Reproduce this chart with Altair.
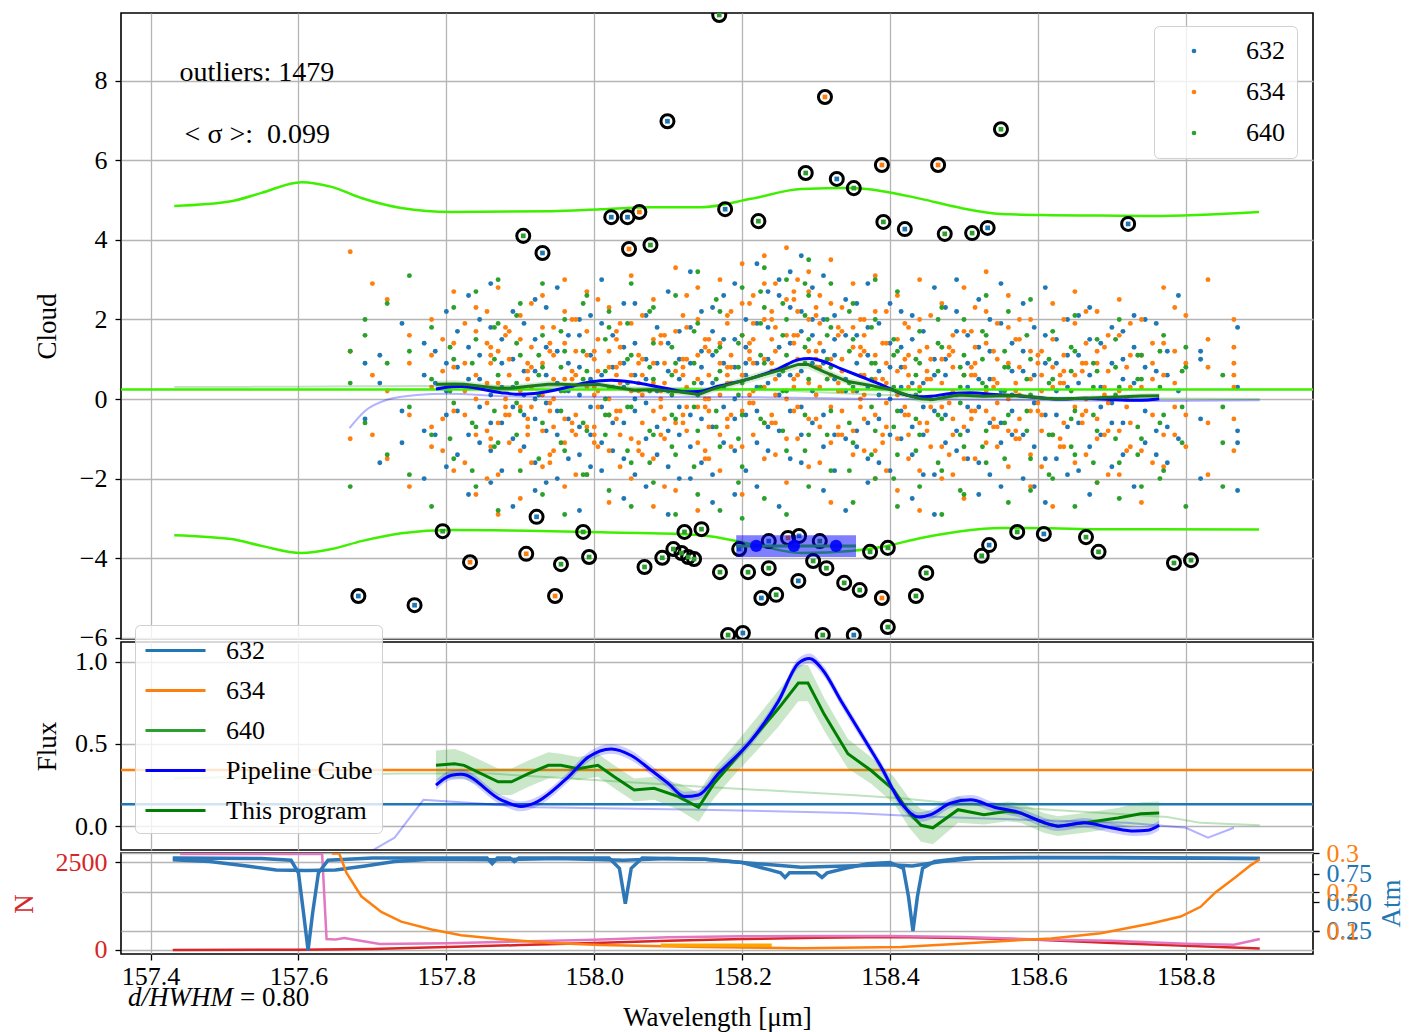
import altair as alt
import pandas as pd

FONT = "Liberation Serif"
X_DOMAIN = [157.36, 158.972]
X_TICKS = [157.4, 157.6, 157.8, 158.0, 158.2, 158.4, 158.6, 158.8]
SERIES = ["632", "634", "640"]
SERIES_COLORS = ["#1f77b4", "#ff7f0e", "#2ca02c"]
FLUX_KEYS = ["632", "634", "640", "Pipeline Cube", "This program"]
FLUX_COLORS = ["#1f77b4", "#ff7f0e", "#2ca02c", "#0000ff", "#008000"]
LIME = "#3ef000"

# ---------------- top panel: residual cloud (columns of samples) ----------------
cols_632 = [157.69, 157.71, 157.74, 157.77, 157.80, 157.83, 157.86, 157.89, 157.92, 157.95,
            157.98, 158.01, 158.04, 158.07, 158.10, 158.13, 158.16, 158.19, 158.22, 158.25,
            158.28, 158.31, 158.34, 158.37, 158.40, 158.43, 158.46, 158.49, 158.52, 158.55,
            158.58, 158.61, 158.64, 158.67, 158.70, 158.73, 158.76, 158.79, 158.82, 158.87]
vals_632 = [[0.9, -0.5], [1.1, -1.6, 0.4], [-0.3, 1.9, -1.1], [0.6, -2.0, 1.4, -0.8],
            [2.2, -0.4, 0.9, -1.7, 0.2], [-2.4, 1.3, -0.9, 0.5, 2.6], [0.1, -1.3, 1.8, -0.6, 2.9, -2.1],
            [1.0, -2.7, 0.3, -1.0, 2.2, -0.2], [-1.6, 0.7, 2.5, -0.5, 1.5, -2.3, 0.0],
            [2.8, -0.9, 0.4, -2.0, 1.2, -0.3], [0.8, -1.4, 2.0, -2.8, 0.1, 1.6, -0.7],
            [-0.2, 1.9, -1.8, 0.6, 3.0, -1.1], [1.3, -0.6, -2.5, 0.3, 2.4, -1.5, 0.9],
            [-1.0, 2.1, 0.5, -2.2, 1.0, -0.1], [0.2, -1.7, 2.7, 1.4, -0.8, -2.9, 0.7],
            [1.8, -0.4, -1.2, 0.9, 3.2, -2.0], [-0.7, 0.4, 2.3, -1.9, 1.1, -2.6, 1.7],
            [2.9, 0.0, -1.3, 1.5, -0.5, 0.8, -2.4], [-1.1, 1.9, 0.3, 3.4, -2.2, 0.9, -0.3],
            [0.6, 2.6, -0.8, 1.3, -2.7, 0.1, 3.0], [1.7, -0.2, 3.6, 0.7, -1.6, 2.2, -0.9],
            [-0.4, 2.0, 0.9, -2.3, 3.1, 1.2, -1.2], [2.5, -1.0, 0.2, 1.6, -2.8, 0.5],
            [0.3, 1.8, -1.5, 2.9, -0.6, -2.1, 1.1], [-0.9, 0.8, 2.4, -1.8, 0.0, 1.4],
            [1.5, -2.5, 0.4, -0.7, 2.1, -1.4], [-0.3, 1.0, 2.8, -1.9, 0.6, -2.9],
            [2.2, -0.8, 0.1, 1.7, -1.3, 3.0], [0.5, -1.6, 1.3, -2.4, 2.5, -0.2],
            [-1.1, 1.9, 0.2, -0.6, 2.9, -2.2], [1.2, -2.0, 0.7, 2.4, -0.9],
            [-0.4, 1.6, -1.5, 0.9, 2.8, -2.6], [2.0, -0.7, 0.3, -1.9, 1.1],
            [0.6, -1.2, 2.3, -2.4, 1.5], [-0.1, 1.8, -1.7, 0.9, -0.6], [1.3, -2.2, 0.4, 2.1],
            [-0.8, 0.7, -1.4, 1.9], [0.2, 2.6, -1.0], [1.0, -0.5, 1.2, -2.0], [1.8, -0.8, 0.3, -1.1, -2.3]]
cols_632b = [157.785, 157.815, 157.845, 157.875, 157.905, 157.935, 157.965, 157.995, 158.025, 158.055,
             158.085, 158.115, 158.145, 158.175, 158.205, 158.235, 158.265, 158.295, 158.325, 158.355,
             158.385, 158.415, 158.445, 158.475, 158.505, 158.535, 158.565, 158.595, 158.625, 158.655,
             158.685, 158.715, 158.745, 158.775]
vals_632b = [[0.4, -0.9, 1.2], [-0.3, 0.8, -1.4, 1.7], [1.1, -0.2, 0.5, -1.1, 2.0], [-0.6, 0.3, 1.5, -1.8, 0.9],
             [0.7, -1.2, 0.1, 1.9, -0.4], [-0.1, 1.3, -0.8, 0.6, -2.1, 2.3], [1.6, 0.2, -0.5, -1.5, 0.9],
             [-0.9, 0.5, 1.1, -0.2, 2.1, -1.7], [0.3, -1.3, 1.6, 0.8, -0.6], [1.4, -0.3, -1.9, 0.6, 2.4, 0.0],
             [-0.7, 0.9, 0.2, -1.4, 1.8], [0.5, 1.7, -0.9, -0.2, 1.0, -2.0], [1.2, -0.5, 0.4, 2.2, -1.6, 0.8],
             [-0.2, 1.5, 0.9, -1.1, 0.3, 2.6], [0.9, 2.0, -0.4, 1.3, -1.8, 0.6], [1.8, 0.4, 2.7, -0.7, 1.0, -1.3],
             [0.6, 2.3, 1.4, -0.3, 3.2, -1.5], [2.0, 0.9, -0.6, 1.6, 2.8, 0.2], [1.1, -0.9, 2.1, 0.5, -1.8, 1.5],
             [0.2, 1.6, -0.8, 2.4, 0.9, -1.2], [-0.5, 0.7, 1.9, -1.6, 0.1], [0.8, -0.3, 1.3, -1.0, 2.2, 0.3],
             [-0.9, 0.4, 1.7, -0.2, -1.9], [0.6, -1.1, 1.0, 2.3, -0.4], [-0.2, 0.9, -1.5, 1.6, 0.3, -0.8],
             [1.2, -0.6, 0.5, -1.9, 2.0], [0.1, 1.4, -0.9, 0.7, -0.3], [-1.2, 0.6, 1.8, -0.1, -2.2],
             [0.9, -0.4, 0.2, 1.5, -1.5], [-0.6, 1.1, -1.8, 0.4, 2.1], [0.3, -0.9, 1.4, -0.2],
             [1.0, -1.4, 0.5, -0.6, 1.7], [-0.3, 0.8, -1.1, 2.0], [0.6, -0.7, 1.2, -1.6]]

cols_634 = [157.67, 157.70, 157.72, 157.75, 157.78, 157.81, 157.84, 157.87, 157.90, 157.93,
            157.96, 157.99, 158.02, 158.05, 158.08, 158.11, 158.14, 158.17, 158.20, 158.23,
            158.26, 158.29, 158.32, 158.35, 158.38, 158.41, 158.44, 158.47, 158.50, 158.53,
            158.56, 158.59, 158.62, 158.65, 158.68, 158.71, 158.74, 158.77, 158.80, 158.83, 158.865]
vals_634 = [[3.7, 1.2, -1.0], [2.9, -0.9, 0.6], [2.5, 0.2, -1.5], [-0.4, 1.6, -2.2, 0.9],
            [2.0, -1.2, 0.3, 1.1, -0.7], [-1.8, 0.8, 2.7, -0.3, 1.4], [1.7, -2.4, 0.0, 2.3, -0.9, 0.6],
            [-0.6, 1.2, -1.9, 2.8, 0.4, -2.9], [2.1, 0.2, -1.3, 1.5, -0.2, -2.5],
            [0.9, -0.8, 2.6, -1.7, 1.8, 0.1], [-2.2, 1.4, 0.5, -0.5, 2.2, -1.1, 3.0],
            [1.1, -1.9, 0.3, 2.7, -0.7, 1.7], [-0.4, 2.3, -2.6, 0.8, 1.2, -1.3, 0.0],
            [3.1, 0.6, -1.0, 1.9, -2.0, 0.2], [-1.5, 0.9, 2.5, -0.3, 1.5, -2.7, 0.4],
            [0.7, -2.3, 1.7, 3.3, -0.6, 0.2], [2.0, -1.1, 0.5, -2.8, 1.1, 2.8, -0.2],
            [-0.9, 1.4, 3.0, 0.1, -1.8, 0.9], [1.6, -0.3, 2.4, -2.4, 0.6, 3.4, -1.2],
            [0.3, 2.9, -1.5, 1.0, -0.6, 2.0, 3.6], [2.5, -1.0, 0.8, 3.8, -2.1, 1.6, 0.0],
            [1.2, 3.2, -0.5, 2.0, -1.7, 0.4, 2.7], [-0.2, 2.4, 1.0, -2.6, 3.5, 0.6, -1.1],
            [1.8, -1.4, 0.2, 2.9, -0.8, 1.3], [0.5, 2.2, -2.0, 1.1, -0.4, 3.1, -1.3],
            [-1.0, 1.5, 0.1, 2.6, -2.3, 0.7], [2.0, -0.6, 1.2, -1.8, 0.3, 3.0, -2.8],
            [0.4, -1.2, 2.4, 1.0, -0.2, -2.0], [-0.7, 1.7, 0.6, -2.5, 2.8, -1.5],
            [1.4, -0.3, 2.2, -1.1, 0.2, 3.2], [0.0, 2.6, -1.7, 0.9, -0.8, 1.8],
            [-1.4, 0.5, 2.0, -2.2, 1.2, -0.3], [2.4, -0.9, 0.3, 1.5, -2.7, 0.8],
            [0.6, -1.6, 1.9, -0.2, 2.7], [-0.5, 1.2, -2.1, 0.9, 2.2, -1.0],
            [1.6, -0.8, 0.2, -1.9, 2.5], [0.3, 2.0, -1.3, 1.1, -2.6], [-0.9, 1.4, 0.6, -1.7, 2.8],
            [0.9, -0.4, 2.1, -1.2], [3.0, 1.5, -0.6, 0.8, -1.9], [2.0, 1.3, 0.9, 0.3, -0.5, -1.3, 0.6]]
cols_634b = [157.795, 157.825, 157.855, 157.885, 157.915, 157.945, 157.975, 158.005, 158.035, 158.065,
             158.095, 158.125, 158.155, 158.185, 158.215, 158.245, 158.275, 158.305, 158.335, 158.365,
             158.395, 158.425, 158.455, 158.485, 158.515, 158.545, 158.575, 158.605, 158.635, 158.665,
             158.695, 158.725, 158.755, 158.785]
vals_634b = [[-0.5, 0.7, 1.5, -1.3], [0.9, -0.4, 0.2, 1.9, -1.6], [-0.8, 1.4, 0.4, -0.1, 2.2, -2.0],
             [0.6, -1.1, 1.0, -0.4, 1.7], [-0.2, 0.8, -1.6, 1.3, 0.3, 2.4], [1.1, -0.7, 0.0, 1.8, -1.3, 0.5],
             [-0.4, 0.6, 2.0, -1.9, 1.2, -0.9], [0.7, -0.2, 1.5, -1.2, 0.2, 2.5],
             [1.3, -0.9, 0.4, -0.3, 1.9, -1.7, 0.9], [-0.6, 1.0, 0.1, 2.1, -1.4, 0.6],
             [0.4, -0.5, 1.6, -1.0, 0.9, -2.2], [1.0, 0.3, -0.8, 1.8, -0.2, 2.6],
             [-0.3, 1.2, 0.6, -1.5, 0.0, 1.5, -0.7], [0.8, 2.2, -0.4, 1.1, -1.2, 0.4],
             [1.5, 0.2, 2.6, -0.9, 0.9, -0.1, 1.9], [0.5, 1.8, -0.6, 2.9, 1.2, -1.4, 0.1],
             [2.2, 1.0, -0.2, 3.0, 0.6, -1.0, 1.6], [1.4, 2.6, 0.3, -0.7, 1.9, 0.8, -1.6],
             [0.2, 1.7, -0.9, 2.3, 1.0, -0.3, 0.7], [1.2, -0.5, 0.6, 2.0, -1.3, 0.1, 1.6],
             [-0.7, 0.9, 1.4, -0.1, -1.8, 0.4, 2.2], [0.3, -0.9, 1.1, 0.6, -0.4, 1.8, -1.5],
             [1.0, -0.2, 0.5, -1.2, 2.1, 0.0], [-0.5, 0.8, 1.6, -0.9, 0.2, -1.9, 1.2],
             [0.6, -0.3, 1.3, -1.5, 0.9, 2.3], [-0.1, 1.0, -0.7, 0.4, 1.9, -1.2],
             [0.8, -1.0, 0.1, 1.5, -0.5, 2.0], [-0.4, 0.6, 1.2, -1.7, 0.2, -0.8],
             [1.1, -0.6, 0.4, 2.0, -1.2, 0.7], [0.0, 0.9, -1.4, 1.4, -0.3, 2.2],
             [0.7, -0.8, 1.6, -0.1, -1.9], [-0.6, 0.3, 1.1, -1.2, 1.9], [0.5, -0.4, 1.4, -1.6, 0.9],
             [-0.2, 1.2, -0.9, 0.4, 2.3]]
cols_634c = [157.86, 157.88, 157.91, 157.94, 157.97, 158.00, 158.03, 158.06, 158.09, 158.12,
             158.15, 158.18, 158.21, 158.24, 158.27, 158.30, 158.33, 158.36, 158.39, 158.42,
             158.45, 158.48, 158.51, 158.54, 158.57, 158.60, 158.63, 158.66, 158.69, 158.72]
vals_634c = [[0.9, 1.1, 1.3, -1.2, -1.0], [-0.4, -0.2, 0.0, 1.6, 1.8], [0.5, 0.7, 0.9, -0.9, -0.7, -0.5],
             [1.2, 1.4, -0.3, -0.1, -1.6, -1.4], [-0.8, -0.6, 0.3, 0.5, 0.7, 2.0],
             [0.1, 0.3, 1.0, 1.2, -1.1, -0.9, -0.7], [-0.5, -0.3, 0.6, 0.8, 1.5, 1.7],
             [0.9, 1.1, -1.3, -1.1, 0.2, 0.4], [-0.2, 0.0, 0.2, 1.4, 1.6, -0.9],
             [0.6, 0.8, 1.0, -0.6, -0.4, 2.1], [1.3, 1.5, -0.2, 0.0, -1.5, -1.3],
             [0.4, 0.6, 0.8, 1.9, 2.1, -0.7, -0.5], [1.0, 1.2, 1.4, -0.1, 0.1, 2.4],
             [0.7, 0.9, 2.0, 2.2, -0.6, -0.4, 1.5], [1.4, 1.6, 0.3, 0.5, 2.5, 2.7, -0.3],
             [0.8, 1.0, 1.2, 2.1, 2.3, -0.5, 0.1], [0.2, 0.4, 1.6, 1.8, -0.9, -0.7],
             [1.1, 1.3, -0.2, 0.0, 0.6, 2.0], [0.3, 0.5, -1.1, -0.9, 1.4], [-0.4, -0.2, 0.8, 1.0, 1.9],
             [0.5, 0.7, -0.8, -0.6, 1.3], [-0.1, 0.1, 1.1, 1.3, -1.4], [0.6, 0.8, -0.5, -0.3, 1.7],
             [-0.7, -0.5, 0.3, 0.5, 1.2], [0.2, 0.4, 1.5, -1.0, -0.8], [-0.3, -0.1, 0.9, 1.1],
             [0.4, 0.6, -1.2, -1.0], [-0.6, -0.4, 0.7, 0.9], [0.1, 0.3, 1.3, -0.9], [-0.2, 0.0, 0.8, -1.3]]

cols_640 = [157.67, 157.69, 157.72, 157.75, 157.78, 157.81, 157.84, 157.87, 157.90, 157.93,
            157.96, 157.99, 158.02, 158.05, 158.08, 158.11, 158.14, 158.17, 158.20, 158.23,
            158.26, 158.29, 158.32, 158.35, 158.38, 158.41, 158.44, 158.47, 158.50, 158.53,
            158.56, 158.59, 158.62, 158.65, 158.68, 158.71, 158.74, 158.77, 158.80, 158.85]
vals_640 = [[1.2, -2.2, 0.4], [2.0, -0.6, 1.6], [0.9, -1.4, 2.4], [3.1, -0.2, 1.2, -1.9],
            [0.5, -2.7, 1.8, -0.9], [2.3, -0.1, -1.5, 1.0], [-0.7, 1.5, -2.2, 0.3, 2.7],
            [1.9, -1.1, 0.6, -2.8, 3.0], [-0.3, 2.4, -1.8, 1.1], [0.8, -2.4, 1.6, -0.6, 2.9],
            [-1.3, 0.2, 2.0, -2.9, 1.2], [2.6, -0.8, 0.7, -1.9], [0.3, 1.8, -2.3, -0.4, 2.2],
            [-1.6, 1.1, 2.9, -0.2, -2.7], [1.4, -0.9, 0.5, 2.3, -2.1], [-0.5, 2.6, -1.4, 0.9, -2.9],
            [1.9, 0.1, -2.4, 3.2, -0.8], [-1.2, 0.7, 2.2, -2.8, 1.3], [0.4, 2.8, -1.7, 1.6, -0.4, -3.0],
            [2.3, -0.6, 0.9, -2.5, 3.3], [1.1, 3.0, -1.3, 0.2, 2.0, -2.9], [2.6, 0.5, -0.9, 3.5, 1.5, -2.2],
            [-0.3, 1.8, 2.9, -1.8, 0.8], [1.5, -2.6, 0.3, 2.4, -1.1], [-0.8, 2.0, 0.9, -2.0, 3.0],
            [1.2, -1.4, 2.7, -0.3, -2.7], [0.2, 1.7, -2.2, 0.9, -0.9], [2.3, -0.5, -1.8, 1.3, -2.9],
            [-1.2, 0.6, 2.0, -2.4, 1.1], [1.6, -0.8, 0.3, -1.6, 2.6], [-0.4, 2.2, -2.6, 0.8],
            [1.0, -1.5, 0.1, 2.5, -2.3], [-0.9, 1.7, -2.0, 0.5], [2.1, -0.3, -1.4, 1.2, -2.7],
            [0.7, -2.1, 1.5, -0.8], [-1.6, 0.3, 2.0, -2.5], [1.1, -1.0, 0.5, -2.2],
            [-0.4, 1.6, -1.8], [0.8, -2.7, 1.3], [-0.2, -2.2, 0.6, -1.1]]
cols_640b = [157.805, 157.835, 157.865, 157.895, 157.925, 157.955, 157.985, 158.015, 158.045, 158.075,
             158.105, 158.135, 158.165, 158.195, 158.225, 158.255, 158.285, 158.315, 158.345, 158.375,
             158.405, 158.435, 158.465, 158.495, 158.525, 158.555, 158.585, 158.615, 158.645, 158.675,
             158.705, 158.735, 158.765, 158.795]
vals_640b = [[0.2, -1.0, 1.3], [-0.6, 0.9, 0.3, -1.8], [1.0, -0.3, 1.8, -1.2], [-0.9, 0.4, 1.4, -0.1, 2.1],
             [0.6, -1.5, 0.1, 1.1], [-0.3, 0.8, -1.1, 1.7, 0.2], [1.2, -0.6, 0.5, -1.9, 2.4],
             [0.0, 1.5, -0.9, 0.7, -0.4], [-1.3, 0.4, 1.0, -0.2, 1.9], [0.8, -0.8, 0.2, 2.2, -1.6],
             [-0.4, 1.3, 0.6, -1.2, 0.1], [0.9, -0.2, 1.7, -1.7, 0.4], [-0.7, 0.5, 1.2, -0.3, 2.5],
             [1.4, 0.1, -1.0, 0.8, -2.1], [0.3, 1.9, -0.5, 1.1, 2.7], [1.6, 0.7, -0.8, 2.4, 0.2],
             [0.9, 2.1, 1.3, -0.4, 2.9, -1.3], [2.0, 0.5, 1.6, -0.9, 1.0], [0.4, 1.2, -0.6, 2.2, -1.8],
             [-0.2, 0.9, 1.8, -1.4, 0.5], [1.1, -0.7, 0.3, 1.5, -2.0], [-0.5, 0.6, -1.3, 1.0, 0.1],
             [0.7, -0.4, 1.4, -1.6, 2.0], [-0.1, 0.8, -0.9, 0.3, -2.3], [1.0, -1.2, 0.4, 1.7],
             [-0.6, 0.2, 1.2, -1.5, 0.8], [0.5, -0.8, 1.6, -0.3], [-0.9, 0.4, 1.0, -1.9],
             [0.2, -0.5, 1.3, -1.2, 0.7], [-0.4, 0.9, -1.6, 0.3], [0.8, -1.0, 0.1, 1.5],
             [-0.7, 0.5, -1.4, 1.1], [0.3, -0.6, 1.2, -2.0], [-0.2, 0.7, -1.1]]

# flagged outliers (ringed)
out_x = [158.169, 158.312, 158.099, 158.550, 158.286, 158.328, 158.351, 158.389, 158.465, 158.177,
         158.023, 158.045, 158.061, 158.222, 158.391, 158.420, 158.474, 158.511, 158.532, 158.722,
         157.904, 157.930, 158.047, 158.076, 157.922, 157.795, 157.985, 158.122, 158.145, 157.832,
         157.908, 157.955, 157.993, 158.068, 158.092, 158.107, 158.118, 158.127, 158.135, 158.170,
         158.196, 158.208, 158.236, 158.226, 158.246, 158.276, 158.296, 158.314, 158.338, 158.359,
         158.389, 158.373, 158.397, 158.435, 158.449, 158.524, 158.534, 158.572, 158.608, 158.665,
         158.682, 158.784, 158.807, 157.681, 157.757, 157.947, 158.181, 158.201, 158.309, 158.351,
         158.397, 158.236, 158.262, 158.277, 158.305]
out_y = [9.65, 7.59, 6.98, 6.78, 5.68, 5.53, 5.30, 5.88, 5.88, 4.77,
         4.57, 4.57, 4.70, 4.47, 4.45, 4.27, 4.15, 4.17, 4.30, 4.40,
         4.10, 3.67, 3.77, 3.87, -2.96, -3.32, -3.34, -3.34, -3.27, -4.10,
         -3.89, -4.15, -3.97, -4.22, -3.99, -3.77, -3.87, -3.97, -4.02, -4.35,
         -3.77, -4.35, -4.25, -5.00, -4.92, -4.57, -4.07, -4.25, -4.62, -4.80,
         -5.00, -3.84, -3.74, -4.95, -4.37, -3.94, -3.67, -3.34, -3.39, -3.47,
         -3.84, -4.12, -4.05, -4.95, -5.18, -4.95, -5.93, -5.88, -5.93, -5.93,
         -5.73, -3.57, -3.49, -3.44, -3.57]
out_s = ["640", "634", "632", "640", "640", "632", "640", "634", "634", "632",
         "632", "632", "634", "640", "640", "632", "640", "640", "632", "632",
         "640", "632", "634", "640", "632", "640", "640", "640", "640", "634",
         "634", "640", "640", "640", "640", "640", "640", "640", "640", "640",
         "632", "640", "640", "632", "640", "632", "640", "640", "640", "640",
         "634", "640", "640", "640", "640", "640", "632", "640", "632", "640",
         "640", "640", "640", "632", "632", "634", "640", "632", "640", "632",
         "640", "632", "634", "632", "640"]

# limits (envelope) curves
env_x = [157.432, 157.509, 157.550, 157.604, 157.645, 157.685, 157.739, 157.807, 157.942, 158.009,
         158.077, 158.145, 158.212, 158.280, 158.347, 158.388, 158.442, 158.496, 158.550, 158.618,
         158.685, 158.753, 158.899]
env_hi = [4.85, 4.97, 5.18, 5.45, 5.33, 5.05, 4.80, 4.70, 4.72, 4.77,
          4.82, 4.82, 5.03, 5.28, 5.30, 5.23, 5.03, 4.80, 4.65, 4.62,
          4.61, 4.60, 4.70]
env_lo = [-3.42, -3.52, -3.69, -3.87, -3.77, -3.57, -3.37, -3.29, -3.32, -3.35,
          -3.37, -3.42, -3.64, -3.87, -3.82, -3.72, -3.49, -3.32, -3.24, -3.25,
          -3.27, -3.27, -3.28]
CLOUD_LEVEL = 0.24

top_fb_x = [157.669, 157.690, 157.720, 157.760, 157.800, 157.900, 158.200, 158.400, 158.760, 158.900]
top_fb_y = [-0.73, -0.30, -0.02, 0.10, 0.13, 0.06, 0.05, 0.00, -0.05, -0.03]
top_fg_x = [157.432, 157.600, 157.780, 158.000, 158.200, 158.400, 158.600, 158.900]
top_fg_y = [0.30, 0.31, 0.33, 0.30, 0.25, 0.10, 0.03, 0.00]

box_x = [158.192, 158.354]
box_y = [-3.42, -3.97]
box_pts_x = [158.219, 158.270, 158.327]
box_pts_y = [-3.69, -3.69, -3.69]

# ---------------- middle panel: flux ----------------
pipe_x = [157.786, 157.807, 157.820, 157.874, 157.901, 157.919, 157.965, 157.992, 158.023, 158.050,
          158.077, 158.100, 158.122, 158.141, 158.168, 158.212, 158.249, 158.276, 158.291, 158.309,
          158.334, 158.361, 158.388, 158.415, 158.439, 158.455, 158.482, 158.509, 158.541, 158.573,
          158.600, 158.627, 158.662, 158.699, 158.730, 158.749, 158.764]
pipe_y = [0.25, 0.31, 0.315, 0.16, 0.12, 0.14, 0.30, 0.42, 0.47, 0.43,
          0.34, 0.26, 0.18, 0.19, 0.32, 0.52, 0.76, 0.99, 1.02, 0.95,
          0.76, 0.56, 0.36, 0.14, 0.055, 0.07, 0.14, 0.16, 0.115, 0.085,
          0.036, 0.0, 0.02, -0.01, -0.03, -0.025, 0.005]
PIPE_ERR = 0.03

prog_x = [157.786, 157.811, 157.824, 157.870, 157.888, 157.911, 157.938, 157.955, 157.978, 158.005,
          158.027, 158.054, 158.081, 158.114, 158.141, 158.162, 158.189, 158.216, 158.249, 158.276,
          158.289, 158.311, 158.343, 158.374, 158.405, 158.426, 158.442, 158.458, 158.492, 158.527,
          158.559, 158.577, 158.608, 158.627, 158.662, 158.708, 158.739, 158.764]
prog_y = [0.37, 0.38, 0.37, 0.27, 0.27, 0.32, 0.37, 0.37, 0.35, 0.37,
          0.30, 0.22, 0.23, 0.18, 0.115, 0.26, 0.40, 0.54, 0.715, 0.87,
          0.87, 0.68, 0.44, 0.34, 0.22, 0.08, 0.005, -0.01, 0.10, 0.07,
          0.09, 0.08, 0.02, 0.0, 0.02, 0.05, 0.075, 0.08]
prog_err = [0.09, 0.09, 0.08, 0.08, 0.08, 0.08, 0.08, 0.07, 0.07, 0.07,
            0.07, 0.07, 0.07, 0.08, 0.09, 0.09, 0.09, 0.10, 0.11, 0.11,
            0.11, 0.10, 0.09, 0.08, 0.08, 0.09, 0.10, 0.10, 0.08, 0.06,
            0.06, 0.06, 0.06, 0.06, 0.06, 0.06, 0.07, 0.07]

flux_levels_key = ["632", "634"]
flux_levels = [0.133, 0.342]

mid_fb_x = [157.680, 157.701, 157.730, 157.769, 157.919, 158.145, 158.347, 158.438, 158.720, 158.800, 158.830, 158.865]
mid_fb_y = [-0.30, -0.145, -0.07, 0.16, 0.115, 0.10, 0.08, 0.06, 0.02, -0.01, -0.07, -0.01]
mid_fg_x = [157.432, 157.600, 157.740, 157.860, 158.000, 158.145, 158.347, 158.415, 158.482, 158.617, 158.775, 158.820, 158.900]
mid_fg_y = [0.29, 0.31, 0.32, 0.32, 0.28, 0.24, 0.19, 0.17, 0.14, 0.10, 0.055, 0.02, 0.005]

# ---------------- bottom panel: atmosphere / N ----------------
atm_x = [157.430, 157.550, 157.590, 157.600, 157.607, 157.613, 157.619, 157.627, 157.640, 157.700,
         157.855, 157.862, 157.869, 157.886, 157.892, 157.898, 158.020, 158.034, 158.042, 158.050,
         158.065, 158.150, 158.200, 158.235, 158.252, 158.258, 158.264, 158.300, 158.308, 158.315,
         158.340, 158.370, 158.400, 158.418, 158.425, 158.431, 158.437, 158.444, 158.460, 158.500,
         158.600, 158.750, 158.900]
atm_y = [0.89, 0.885, 0.87, 0.76, 0.40, 0.08, 0.40, 0.76, 0.87, 0.89,
         0.89, 0.84, 0.89, 0.89, 0.86, 0.89, 0.89, 0.80, 0.49, 0.80,
         0.89, 0.88, 0.85, 0.79, 0.76, 0.72, 0.76, 0.76, 0.72, 0.76,
         0.80, 0.84, 0.85, 0.80, 0.55, 0.25, 0.55, 0.80, 0.86, 0.89,
         0.895, 0.89, 0.885]
atm_s_x = [157.430, 157.480, 157.530, 157.570, 157.610, 157.650, 157.690, 157.730, 157.780, 157.860,
           157.950, 158.040, 158.100, 158.150, 158.220, 158.280, 158.340, 158.400, 158.430, 158.470,
           158.520, 158.700, 158.900]
atm_s_y = [0.875, 0.86, 0.82, 0.785, 0.78, 0.785, 0.82, 0.86, 0.88, 0.875,
           0.885, 0.87, 0.885, 0.88, 0.84, 0.81, 0.82, 0.83, 0.82, 0.86,
           0.89, 0.895, 0.885]

pink_x = [157.440, 157.632, 157.638, 157.650, 157.662, 157.710, 157.800, 157.900, 158.000, 158.100,
          158.200, 158.300, 158.400, 158.500, 158.600, 158.700, 158.800, 158.865, 158.900]
pink_n = [2730, 2730, 310, 300, 340, 170, 190, 240, 290, 360,
          390, 400, 400, 370, 300, 260, 180, 150, 310]
red_x = [157.430, 157.600, 157.700, 157.800, 157.900, 158.000, 158.100, 158.200, 158.300, 158.400,
         158.500, 158.600, 158.700, 158.800, 158.900]
red_n = [0, 10, 30, 85, 140, 200, 260, 310, 350, 370, 340, 290, 200, 120, 45]

orng_x = [157.645, 157.655, 157.665, 157.685, 157.712, 157.739, 157.780, 157.820, 157.874, 157.942,
          158.009, 158.145, 158.280, 158.415, 158.482, 158.550, 158.618, 158.685, 158.753, 158.793,
          158.820, 158.840, 158.868, 158.888, 158.900]
orng_v = [0.30, 0.30, 0.25, 0.19, 0.15, 0.125, 0.105, 0.09, 0.08, 0.07,
          0.065, 0.06, 0.057, 0.06, 0.067, 0.075, 0.082, 0.095, 0.12, 0.138,
          0.163, 0.20, 0.24, 0.27, 0.285]
yel_x = [158.090, 158.240]
yel_v = [0.0645, 0.0645]

# ---------------- build tables ----------------
def flatten(cols, vals, name):
    rows = []
    for xv, ys in zip(cols, vals):
        for yv in ys:
            rows.append({"x": xv, "y": yv, "series": name})
    return rows

df_sc = pd.DataFrame(flatten(cols_632, vals_632, "632") + flatten(cols_632b, vals_632b, "632")
                     + flatten(cols_634, vals_634, "634") + flatten(cols_634b, vals_634b, "634")
                     + flatten(cols_634c, vals_634c, "634")
                     + flatten(cols_640, vals_640, "640") + flatten(cols_640b, vals_640b, "640"))
df_out = pd.DataFrame({"x": out_x, "y": out_y, "series": out_s})
df_env = pd.DataFrame({"x": env_x * 2, "y": env_hi + env_lo, "grp": ["hi"] * len(env_x) + ["lo"] * len(env_x)})
df_tfb = pd.DataFrame({"x": top_fb_x, "y": top_fb_y})
df_tfg = pd.DataFrame({"x": top_fg_x, "y": top_fg_y})
df_pipe = pd.DataFrame({"x": pipe_x, "y": pipe_y, "series": "Pipeline Cube",
                        "lo": [v - PIPE_ERR for v in pipe_y], "hi": [v + PIPE_ERR for v in pipe_y]})
df_prog = pd.DataFrame({"x": prog_x, "y": prog_y, "series": "This program",
                        "lo": [v - e for v, e in zip(prog_y, prog_err)],
                        "hi": [v + e for v, e in zip(prog_y, prog_err)]})
df_box_pts = pd.DataFrame({"x": box_pts_x, "y": box_pts_y})
df_box_line = pd.DataFrame({"x": box_x, "y": [box_pts_y[0]] * 2})
df_levels = pd.DataFrame({"y": flux_levels, "series": flux_levels_key})
df_mfb = pd.DataFrame({"x": mid_fb_x, "y": mid_fb_y})
df_mfg = pd.DataFrame({"x": mid_fg_x, "y": mid_fg_y})
df_atm = pd.DataFrame({"x": atm_x, "atm": atm_y})
df_atm_s = pd.DataFrame({"x": atm_s_x, "atm": atm_s_y})
df_pink = pd.DataFrame({"x": pink_x, "n": pink_n})
df_red = pd.DataFrame({"x": red_x, "n": red_n})
df_org = pd.DataFrame({"x": orng_x, "o": orng_v})
df_yel = pd.DataFrame({"x": yel_x, "o": yel_v})
one = pd.DataFrame({"a": [0]})

W = 1192
H_TOP, H_MID, H_BOT = 626, 208, 101


def xq(field="x", show=False):
    if show:
        return alt.X(f"{field}:Q", scale=alt.Scale(domain=X_DOMAIN, nice=False, zero=False),
                     title="Wavelength [μm]",
                     axis=alt.Axis(values=X_TICKS, grid=True, domain=False, format=".1f",
                                   labelPadding=3, titlePadding=15, tickSize=6))
    return alt.X(f"{field}:Q", scale=alt.Scale(domain=X_DOMAIN, nice=False, zero=False), title=None,
                 axis=alt.Axis(values=X_TICKS, grid=True, domain=False, labels=False, ticks=False))


def ytop(field="y"):
    return alt.Y(f"{field}:Q", scale=alt.Scale(domain=[-6.03, 9.7], nice=False, zero=False), title="Cloud",
                 axis=alt.Axis(values=[-6, -4, -2, 0, 2, 4, 6, 8], format="d", grid=True, domain=False,
                               labelPadding=8, titlePadding=18))


def ymid(field="y"):
    return alt.Y(f"{field}:Q", scale=alt.Scale(domain=[-0.145, 1.12], nice=False, zero=False), title="Flux",
                 axis=alt.Axis(values=[0.0, 0.5, 1.0], format=".1f", grid=True, domain=False,
                               labelPadding=8, titlePadding=13))


top_legend = alt.Legend(title=None, orient="none", legendX=1033, legendY=13, symbolType="circle",
                        symbolSize=22, symbolOffset=15, labelOffset=39, labelFontSize=26, labelFont=FONT,
                        rowPadding=15, padding=12, strokeColor="#d0d0d0", fillColor="rgba(255,255,255,0.8)",
                        cornerRadius=5)
mid_legend = alt.Legend(title=None, orient="none", legendX=14, legendY=-17, symbolType="M-2,0H2",
                        symbolSize=900, symbolStrokeWidth=3, symbolOffset=15, labelOffset=34,
                        labelFontSize=26, labelFont=FONT, rowPadding=10, padding=9, strokeColor="#d0d0d0",
                        fillColor="rgba(255,255,255,0.8)", cornerRadius=5)

top_color = alt.Color("series:N", scale=alt.Scale(domain=SERIES, range=SERIES_COLORS), legend=top_legend)
mid_color = alt.Color("series:N", scale=alt.Scale(domain=FLUX_KEYS, range=FLUX_COLORS), legend=mid_legend)

# ---- top panel layers
scatter = alt.Chart(df_sc).mark_circle(size=24, opacity=1, clip=True).encode(x=xq(), y=ytop(), color=top_color)
env = alt.Chart(df_env).mark_line(color=LIME, strokeWidth=2.5, clip=True, interpolate="monotone").encode(
    x=xq(), y=ytop(), detail="grp:N")
cloud_rule = alt.Chart(one).mark_rule(color=LIME, strokeWidth=2.5).encode(y=alt.datum(CLOUD_LEVEL))
tfb = alt.Chart(df_tfb).mark_line(color="#0000ff", opacity=0.3, strokeWidth=2, clip=True,
                                  interpolate="monotone").encode(x=xq(), y=ytop())
tfg = alt.Chart(df_tfg).mark_line(color="#2ca02c", opacity=0.3, strokeWidth=2, clip=True,
                                  interpolate="monotone").encode(x=xq(), y=ytop())
t_band = alt.Chart(df_prog).mark_area(color="#2ca02c", opacity=0.2, clip=True).encode(
    x=xq(), y=ytop("lo"), y2="hi:Q")
t_pipe = alt.Chart(df_pipe).mark_line(color="#0000ff", strokeWidth=3, clip=True, interpolate="monotone").encode(
    x=xq(), y=ytop())
t_prog = alt.Chart(df_prog).mark_line(color="#1b7a1b", strokeWidth=3, clip=True).encode(x=xq(), y=ytop())
rings = alt.Chart(df_out).mark_point(shape="circle", filled=False, color="black", size=170, strokeWidth=3,
                                     opacity=1, clip=True).encode(x=xq(), y=ytop())
inner = alt.Chart(df_out).mark_square(size=22, opacity=1, clip=True).encode(x=xq(), y=ytop(), color=top_color)
box = alt.Chart(one).mark_rect(color="#0000ff", opacity=0.5).encode(
    x=alt.datum(box_x[0]), x2=alt.datum(box_x[1]), y=alt.datum(box_y[0]), y2=alt.datum(box_y[1]))
box_line = alt.Chart(df_box_line).mark_line(color="#1f6f7f", strokeWidth=3).encode(x=xq(), y=ytop())
box_pts = alt.Chart(df_box_pts).mark_circle(size=150, color="#0000ff", opacity=0.9).encode(x=xq(), y=ytop())
txt1 = alt.Chart(one).mark_text(text="outliers: 1479", font=FONT, fontSize=28, align="left",
                                baseline="middle").encode(x=alt.datum(157.439), y=alt.datum(8.19))
txt2 = alt.Chart(one).mark_text(text="<\u00a0σ\u00a0>:\u00a0\u00a00.099", font=FONT, fontSize=28, align="left",
                                baseline="middle").encode(x=alt.datum(157.446), y=alt.datum(6.63))

top = alt.layer(scatter, tfb, tfg, cloud_rule, env, t_band, t_pipe, t_prog, rings, inner,
                box, box_line, box_pts, txt1, txt2).properties(width=W, height=H_TOP)

# ---- middle panel layers
levels = alt.Chart(df_levels).mark_rule(strokeWidth=2.5).encode(y=ymid(), color=mid_color)
mfb = alt.Chart(df_mfb).mark_line(color="#0000ff", opacity=0.3, strokeWidth=2, clip=True).encode(x=xq(), y=ymid())
mfg = alt.Chart(df_mfg).mark_line(color="#2ca02c", opacity=0.3, strokeWidth=2, clip=True).encode(x=xq(), y=ymid())
g_band = alt.Chart(df_prog).mark_area(color="#2ca02c", opacity=0.25, clip=True).encode(
    x=xq(), y=ymid("lo"), y2="hi:Q")
b_band = alt.Chart(df_pipe).mark_area(color="#0000ff", opacity=0.2, clip=True, interpolate="monotone").encode(
    x=xq(), y=ymid("lo"), y2="hi:Q")
m_prog = alt.Chart(df_prog).mark_line(strokeWidth=3, clip=True).encode(x=xq(), y=ymid(), color=mid_color)
m_pipe = alt.Chart(df_pipe).mark_line(strokeWidth=3, clip=True, interpolate="monotone").encode(
    x=xq(), y=ymid(), color=mid_color)

mid = alt.layer(levels, mfg, mfb, g_band, b_band, m_prog, m_pipe).properties(width=W, height=H_MID)

# ---- bottom panel layers
yN = alt.Y("n:Q", scale=alt.Scale(domain=[-114, 2756], nice=False, zero=False), title="N",
           axis=alt.Axis(orient="left", values=[0, 2500], format="d", grid=True, domain=False,
                         labelColor="#d62728", titleColor="#d62728", labelPadding=8, titlePadding=17))
yA = alt.Y("atm:Q", scale=alt.Scale(domain=[0.048, 0.934], nice=False, zero=False), title="Atm",
           axis=alt.Axis(orient="right", values=[0.25, 0.5, 0.75], format=".2f", grid=False, domain=False,
                         labelColor="#1f77b4", titleColor="#1f77b4", titleAngle=270, titleX=92, titleY=50,
                         titleAlign="center", titleBaseline="bottom", labelPadding=7))
yO = alt.Y("o:Q", scale=alt.Scale(domain=[0.042, 0.301], nice=False, zero=False), title=None,
           axis=alt.Axis(orient="right", values=[0.1, 0.2, 0.3], format=".1f", grid=True, domain=False,
                         labelColor="#ff7f0e", labelPadding=7))

red = alt.Chart(df_red).mark_line(color="#d62728", strokeWidth=2.5, clip=True).encode(x=xq(show=True), y=yN)
pink = alt.Chart(df_pink).mark_line(color="#e377c2", strokeWidth=2.5, clip=True).encode(x=xq(show=True), y=yN)
hw1 = alt.Chart(one).mark_text(text="d/HWHM", font=FONT, fontSize=27, fontStyle="italic", align="left",
                               baseline="middle").encode(x=alt.value(7), y=alt.value(145))
hw2 = alt.Chart(one).mark_text(text="= 0.80", font=FONT, fontSize=27, align="left",
                               baseline="middle").encode(x=alt.value(119), y=alt.value(145))
n_layer = alt.layer(red, pink, hw1, hw2)
atm_s = alt.Chart(df_atm_s).mark_line(color="#2f78b8", strokeWidth=3.5, clip=True).encode(x=xq(show=True), y=yA)
atm_l = alt.Chart(df_atm).mark_line(color="#2f78b8", strokeWidth=3.5, clip=True).encode(x=xq(show=True), y=yA)
a_layer = alt.layer(atm_s, atm_l)
org = alt.Chart(df_org).mark_line(color="#ff7f0e", strokeWidth=2.5, clip=True).encode(x=xq(show=True), y=yO)
yel = alt.Chart(df_yel).mark_line(color="#ffa500", strokeWidth=3.5, clip=True).encode(x=xq(show=True), y=yO)
o_layer = alt.layer(org, yel)

bot = alt.layer(n_layer, a_layer, o_layer).resolve_scale(y="independent").properties(width=W, height=H_BOT)

chart = alt.vconcat(top, mid, bot, spacing=3, bounds="flush").resolve_scale(color="independent").properties(
    padding={"left": 9, "right": 2, "top": 12, "bottom": 5}
).configure(font=FONT).configure_axis(
    labelFont=FONT, labelFontSize=26, titleFont=FONT, titleFontSize=27, titleFontWeight="normal",
    labelColor="black", tickColor="black", tickSize=6, tickWidth=1.3, gridColor="#b5b5b5", gridWidth=1.3,
    titleColor="black", labelPadding=4
).configure_view(stroke="black", strokeWidth=1.6)

chart.save("out.html", embed_options={"renderer": "svg", "actions": False})
